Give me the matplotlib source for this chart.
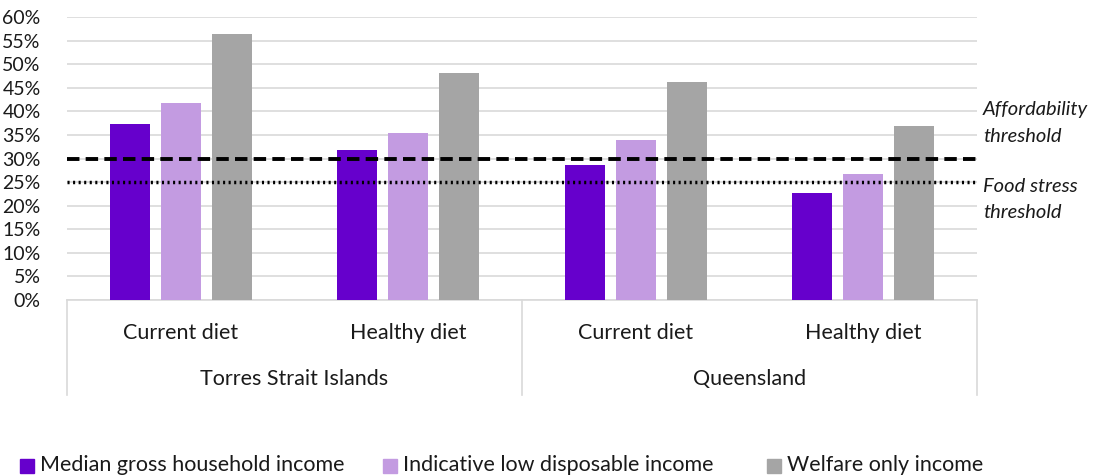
import matplotlib.pyplot as plt
from matplotlib.patches import Rectangle
from matplotlib.ticker import PercentFormatter

plt.rcParams['font.family'] = ['Lato', 'DejaVu Sans']

regions = ['Torres Strait Islands', 'Queensland']
diets = ['Current diet', 'Healthy diet']
series = ['Median gross household income', 'Indicative low disposable income', 'Welfare only income']
colors = ['#6600CC', '#C39BE1', '#A5A5A5']
# values per series, in order TSI current, TSI healthy, QLD current, QLD healthy
values = [
    [37.3, 31.7, 28.6, 22.7],
    [41.8, 35.5, 33.9, 26.8],
    [56.5, 48.1, 46.3, 36.9],
]
affordability = 30
food_stress = 25

W, H = 1095, 475
fig = plt.figure(figsize=(W / 100, H / 100), dpi=100)
ax = fig.add_axes([67 / W, 175 / H, 910 / W, 283 / H])

n = len(values[0])
pitch = 0.224
width = 0.176
for j, (name, col) in enumerate(zip(series, colors)):
    xs = [i + 0.5 + (j - 1) * pitch for i in range(n)]
    ax.bar(xs, [v / 100 for v in values[j]], width=width, color=col, zorder=2)

ax.set_xlim(0, n)
ax.set_ylim(0, 0.6)
ax.set_yticks([k / 100 for k in range(0, 61, 5)])
ax.yaxis.set_major_formatter(PercentFormatter(1.0, decimals=0))
ax.tick_params(axis='y', length=0, pad=19, labelsize=14, colors='#1a1a1a')
ax.set_xticks([])
ax.grid(axis='y', color='#D9D9D9', linewidth=1.2, zorder=0)
for s in ['top', 'right', 'left', 'bottom']:
    ax.spines[s].set_visible(False)

ax.axhline(affordability / 100, color='black', linewidth=2.8, dashes=(3.2, 1.6), zorder=3)
ax.axhline(food_stress / 100, color='black', linewidth=2.5, dashes=(0.6, 1.0), zorder=3)

# category box below the axis
tr = ax.get_xaxis_transform()
ax.plot([0, n], [0, 0], color='#D9D9D9', linewidth=1.2, transform=tr, clip_on=False, zorder=1)
for xv in [0, n / 2, n]:
    ax.plot([xv, xv], [0, -0.336], color='#D9D9D9', linewidth=1.2, transform=tr, clip_on=False)
for i in range(n):
    ax.text(i + 0.5, -0.117, diets[i % 2], transform=tr, ha='center', va='center',
            fontsize=15.5, color='#1a1a1a')
for r, reg in enumerate(regions):
    ax.text(r * 2 + 1, -0.279, reg, transform=tr, ha='center', va='center',
            fontsize=15.5, color='#1a1a1a')

# threshold labels
for txt, ypx in [('Affordability', 109), ('threshold', 137),
                 ('Food stress', 186), ('threshold', 213)]:
    fig.text(983 / W, 1 - ypx / H, txt, style='italic', fontsize=14.5,
             va='center', ha='left', color='#1a1a1a')

# legend
leg_x = [20, 383, 767]
for x0, name, col in zip(leg_x, series, colors):
    fig.patches.append(Rectangle((x0 / W, 2 / H), 14 / W, 14 / H,
                                 transform=fig.transFigure, color=col))
    fig.text((x0 + 20) / W, 10 / H, name, fontsize=15.5, va='center', ha='left',
             color='#1a1a1a')

fig.savefig('out.png', dpi=100)
